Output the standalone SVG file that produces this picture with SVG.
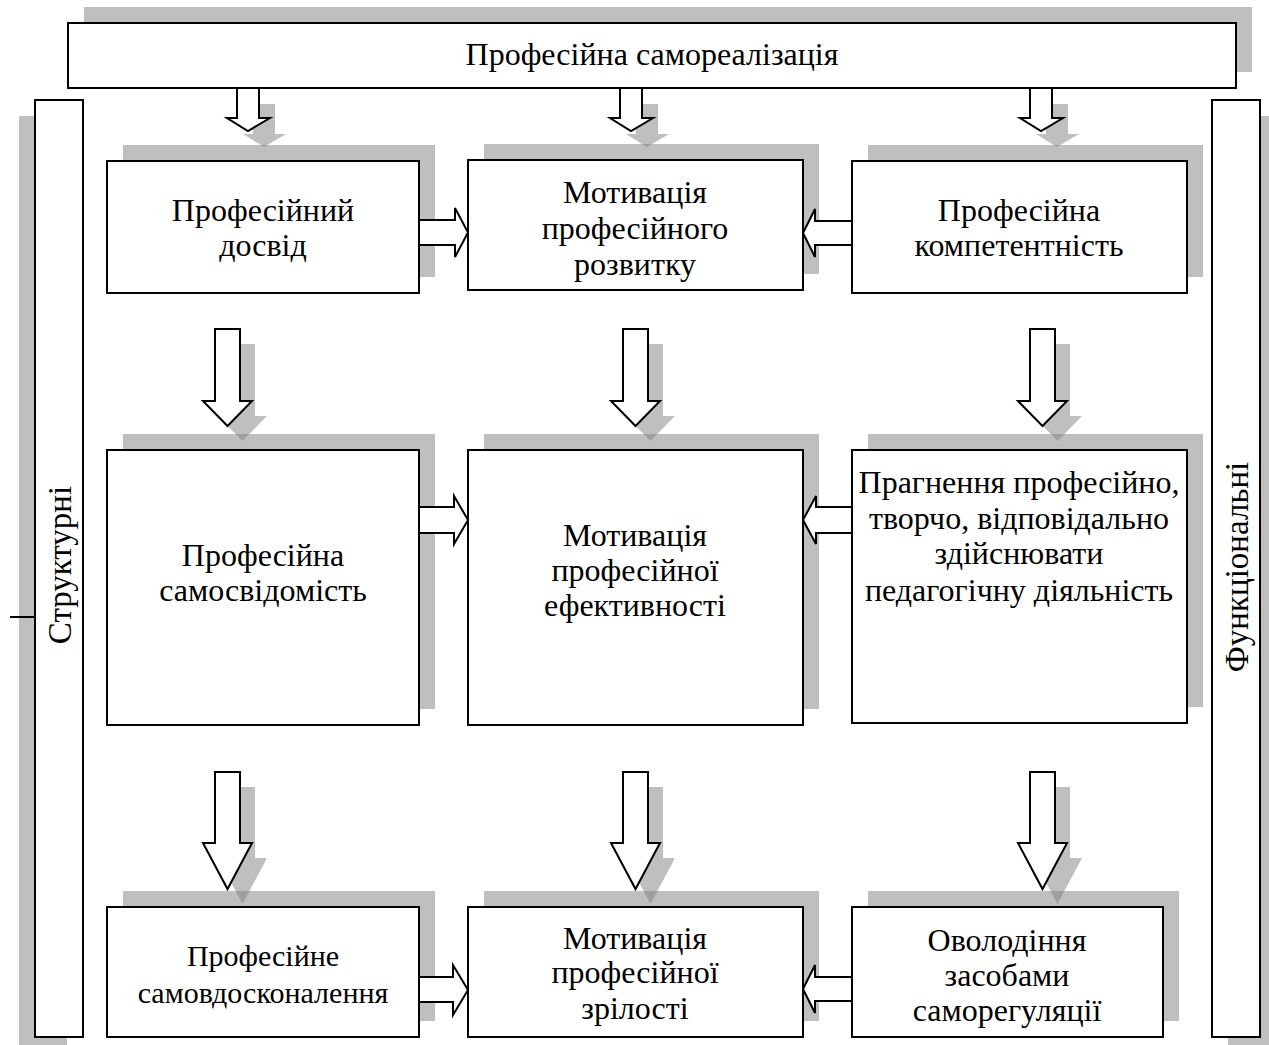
<svg xmlns="http://www.w3.org/2000/svg" width="1269" height="1045" viewBox="0 0 1269 1045">
<style>
.box{fill:#fff;stroke:#000;stroke-width:2}
.sh{fill:#808080;fill-opacity:0.5}
.arr{fill:#fff;stroke:#000;stroke-width:2;stroke-linejoin:miter}
text{font-family:"Liberation Serif","Times New Roman",serif;font-size:32px;fill:#000;text-anchor:middle}
.sm{font-size:30px}
.side{font-size:33px}
</style>
<rect width="1269" height="1045" fill="#fff"/>
<g id="shadows">
<rect class="sh" x="84" y="7" width="1168" height="65"/>
<rect class="sh" x="19" y="116" width="48" height="937"/>
<rect class="sh" x="1228" y="116" width="48" height="937"/>
<rect class="sh" x="123" y="145" width="312" height="132"/>
<rect class="sh" x="484" y="144" width="335" height="130"/>
<rect class="sh" x="868" y="145" width="335" height="132"/>
<rect class="sh" x="123" y="434" width="312" height="275"/>
<rect class="sh" x="484" y="434" width="335" height="275"/>
<rect class="sh" x="868" y="434" width="335" height="273"/>
<rect class="sh" x="123" y="891" width="312" height="130"/>
<rect class="sh" x="484" y="891" width="335" height="130"/>
<rect class="sh" x="868" y="891" width="311" height="130"/>
<polygon class="sh" points="253,104 275,104 275,134 286,134 264,147 243,134 253,134"/>
<polygon class="sh" points="636,104 658,104 658,134 669,134 647,147 626,134 636,134"/>
<polygon class="sh" points="1046,104 1068,104 1068,134 1079,134 1057,147 1036,134 1046,134"/>
<polygon class="sh" points="230,344 255,344 255,416 267,416 242.5,441 218,416 230,416"/>
<polygon class="sh" points="638,344 663,344 663,416 675,416 650.5,441 626,416 638,416"/>
<polygon class="sh" points="1045,344 1070,344 1070,416 1082,416 1057.5,441 1033,416 1045,416"/>
<polygon class="sh" points="230,787 255,787 255,858 267,858 242.5,904 218,858 230,858"/>
<polygon class="sh" points="638,787 663,787 663,858 675,858 650.5,904 626,858 638,858"/>
<polygon class="sh" points="1045,787 1070,787 1070,858 1082,858 1057.5,904 1033,858 1045,858"/>
</g>
<g id="connectors">
<polygon class="arr" points="237,88 259,88 259,118 270,118 248,131 227,118 237,118"/>
<polygon class="arr" points="620,88 642,88 642,118 653,118 631,131 610,118 620,118"/>
<polygon class="arr" points="1030,88 1052,88 1052,118 1063,118 1041,131 1020,118 1030,118"/>
<polygon class="arr" points="215,329 240,329 240,401 252,401 227.5,426 203,401 215,401"/>
<polygon class="arr" points="623,329 648,329 648,401 660,401 635.5,426 611,401 623,401"/>
<polygon class="arr" points="1030,329 1055,329 1055,401 1067,401 1042.5,426 1018,401 1030,401"/>
<polygon class="arr" points="215,772 240,772 240,843 252,843 227.5,889 203,843 215,843"/>
<polygon class="arr" points="623,772 648,772 648,843 660,843 635.5,889 611,843 623,843"/>
<polygon class="arr" points="1030,772 1055,772 1055,843 1067,843 1042.5,889 1018,843 1030,843"/>
<polygon class="arr" points="419,220 455,220 455,208 468,232.5 455,257 455,245 419,245"/>
<polygon class="arr" points="852,221 815,221 815,209 803,233 815,257 815,245 852,245"/>
<polygon class="arr" points="418,507 454,507 454,496 468,520 454,544 454,533 418,533"/>
<polygon class="arr" points="852,507 816,507 816,496 803,520 816,544 816,533 852,533"/>
<polygon class="arr" points="418,977 453,977 453,965 468,990 453,1015 453,1002 418,1002"/>
<polygon class="arr" points="852,977 815,977 815,965 803,989 815,1013 815,1001 852,1001"/>
<line x1="10" y1="617" x2="35" y2="617" stroke="#000" stroke-width="2"/>
</g>
<g id="n-top">
<rect class="box" x="68" y="23" width="1168" height="65"/>
<text x="652" y="65">Професійна самореалізація</text>
</g>
<g id="n-struct">
<rect class="box" x="35" y="100" width="48" height="937"/>
<text class="side" transform="translate(71,565) rotate(-90)" x="0" y="0">Структурні</text>
</g>
<g id="n-func">
<rect class="box" x="1212" y="100" width="48" height="937"/>
<text class="side" transform="translate(1248,567) rotate(-90)" x="0" y="0">Функціональні</text>
</g>
<g id="n-a1">
<rect class="box" x="107" y="161" width="312" height="132"/>
<text x="263" y="221">Професійний</text>
<text x="263" y="256">досвід</text>
</g>
<g id="n-b1">
<rect class="box" x="468" y="160" width="335" height="130"/>
<text x="635" y="203">Мотивація</text>
<text x="635" y="239">професійного</text>
<text x="635" y="275">розвитку</text>
</g>
<g id="n-c1">
<rect class="box" x="852" y="161" width="335" height="132"/>
<text x="1019" y="221">Професійна</text>
<text x="1019" y="256">компетентність</text>
</g>
<g id="n-a2">
<rect class="box" x="107" y="450" width="312" height="275"/>
<text x="263" y="566">Професійна</text>
<text x="263" y="601">самосвідомість</text>
</g>
<g id="n-b2">
<rect class="box" x="468" y="450" width="335" height="275"/>
<text x="635" y="546">Мотивація</text>
<text x="635" y="581">професійної</text>
<text x="635" y="616">ефективності</text>
</g>
<g id="n-c2">
<rect class="box" x="852" y="450" width="335" height="273"/>
<text x="1019" y="493">Прагнення професійно,</text>
<text x="1019" y="529">творчо, відповідально</text>
<text x="1019" y="564">здійснювати</text>
<text x="1019" y="601">педагогічну діяльність</text>
</g>
<g id="n-a3">
<rect class="box" x="107" y="907" width="312" height="130"/>
<text class="sm" x="263" y="966">Професійне</text>
<text class="sm" x="263" y="1003">самовдосконалення</text>
</g>
<g id="n-b3">
<rect class="box" x="468" y="907" width="335" height="130"/>
<text x="635" y="949">Мотивація</text>
<text x="635" y="983">професійної</text>
<text x="635" y="1019">зрілості</text>
</g>
<g id="n-c3">
<rect class="box" x="852" y="907" width="311" height="130"/>
<text x="1007" y="951">Оволодіння</text>
<text x="1007" y="986">засобами</text>
<text x="1007" y="1021">саморегуляції</text>
</g>
</svg>
